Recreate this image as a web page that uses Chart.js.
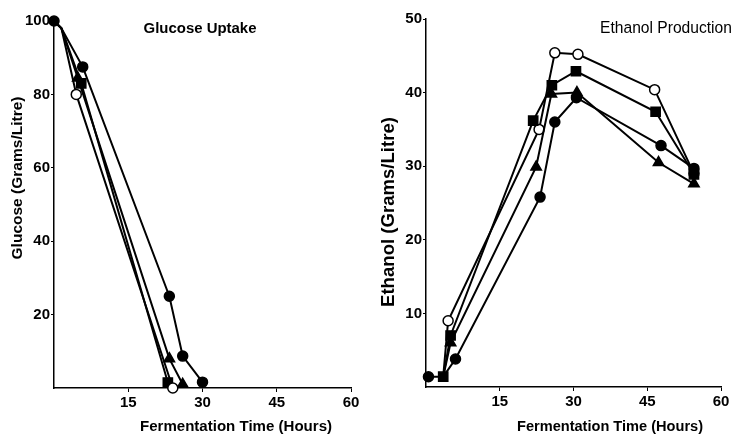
<!DOCTYPE html>
<html><head><meta charset="utf-8">
<script src="https://cdn.jsdelivr.net/npm/chart.js@4/dist/chart.umd.min.js"></script>
<style>
html,body{margin:0;padding:0;background:#fff;}
#wrap{position:relative;width:736px;height:435px;overflow:hidden;}
.c{position:absolute;top:0;width:368px;height:435px;}
</style></head><body>
<div id="wrap">
<div class="c" style="left:0"><canvas id="g" width="368" height="435"></canvas></div>
<div class="c" style="left:368px"><canvas id="e" width="368" height="435"></canvas></div>
</div>
<script>
// ---- tick labels ----
const xTickValues = [15, 30, 45, 60];
const glucoseTickValues = [20, 40, 60, 80, 100];
const ethanolTickValues = [10, 20, 30, 40, 50];

// ---- Glucose uptake (g/L) ----
const glcOpenT   = [0, 1.5, 4.5, 24];
const glcOpenV   = [100, 98, 80, 0];
const glcSquareT = [0, 1.5, 5.5, 23];
const glcSquareV = [100, 98, 83, 1.5];
const glcTriT    = [0, 1.5, 4.8, 23.3, 26];
const glcTriV    = [100, 98, 84.5, 8, 1];
const glcFillT   = [0, 1.5, 5.8, 23.3, 26, 30];
const glcFillV   = [100, 98, 87.5, 25, 8.7, 1.6];

// ---- Ethanol production (g/L) ----
const ethOpenT   = [3.5, 4.5, 23, 26.2, 30.9, 46.5, 54.5];
const ethOpenV   = [1.4, 9, 35, 45.4, 45.2, 40.4, 29];
const ethSquareT = [3.5, 5, 21.8, 25.6, 30.5, 46.7, 54.5];
const ethSquareV = [1.4, 7, 36.2, 41, 42.9, 37.4, 28.9];
const ethTriT    = [3.5, 5, 22.4, 25.5, 30.7, 47.3, 54.5];
const ethTriV    = [1.4, 6, 29.9, 39.8, 40, 30.5, 27.6];
const ethFillT   = [0.5, 3.5, 6, 23.2, 26.2, 30.6, 47.8, 54.5];
const ethFillV   = [1.4, 1.4, 3.8, 25.8, 36, 39.3, 32.8, 29.7];

const pts = (t, v) => t.map((x, i) => ({x, y: v[i]}));
const FONT = '"Liberation Sans", Arial, Helvetica, sans-serif';

function ds(label, data, style, fill, radius, hidden, order) {
  return {
    label, data, order,
    borderColor: '#000', borderWidth: 2,
    pointStyle: style,
    pointBackgroundColor: fill,
    pointBorderColor: '#000', pointBorderWidth: 1.5,
    pointRadius: c => hidden.includes(c.dataIndex) ? 0 : radius,
    tension: 0, clip: false, fill: false
  };
}

function fitFont(ctx, text, weight, target) {
  ctx.font = weight + ' 20px ' + FONT;
  const w = ctx.measureText(text).width;
  return weight + ' ' + (20 * target / w).toFixed(2) + 'px ' + FONT;
}

function textPlugin(items) {
  return {
    id: 'txt',
    afterDraw(chart) {
      const ctx = chart.ctx;
      items.forEach(it => {
        ctx.save();
        ctx.font = fitFont(ctx, it.text, it.weight, it.width);
        ctx.fillStyle = '#000';
        ctx.textAlign = 'center';
        ctx.textBaseline = 'middle';
        ctx.translate(it.x, it.y);
        if (it.rot) ctx.rotate(it.rot);
        ctx.fillText(it.text, 0, 0);
        ctx.restore();
      });
    }
  };
}

function makeChart(id, datasets, yMax, yTicks, yWidth, xHeight, pad, texts) {
  const tickFont = {family: FONT, size: 15, weight: 'bold'};
  return new Chart(document.getElementById(id), {
    type: 'line',
    data: {datasets},
    options: {
      responsive: false, animation: false,
      layout: {padding: pad},
      plugins: {legend: {display: false}, tooltip: {enabled: false}},
      scales: {
        x: {
          type: 'linear', min: 0, max: 60,
          afterBuildTicks: s => { s.ticks = xTickValues.map(v => ({value: v})); },
          afterFit: s => { s.height = xHeight; },
          ticks: {color: '#000', font: tickFont, padding: 2, maxRotation: 0},
          grid: {display: true, drawOnChartArea: false, drawTicks: true, tickLength: 4, color: '#000', lineWidth: 1},
          border: {display: true, color: '#000', width: 1.5}
        },
        y: {
          type: 'linear', min: 0, max: yMax,
          afterBuildTicks: s => { s.ticks = yTicks.map(v => ({value: v})); },
          afterFit: s => { s.width = yWidth; },
          ticks: {color: '#000', font: tickFont, padding: 1},
          grid: {display: true, drawOnChartArea: false, drawTicks: true, tickLength: 3, color: '#000', lineWidth: 1},
          border: {display: true, color: '#000', width: 1.5}
        }
      }
    },
    plugins: [textPlugin(texts)]
  });
}

makeChart('g', [
  ds('Open circle', pts(glcOpenT, glcOpenV), 'circle', '#fff', 5, [0, 1], 0),
  ds('Square', pts(glcSquareT, glcSquareV), 'rect', '#000', 6.5, [0, 1], 1),
  ds('Triangle', pts(glcTriT, glcTriV), 'triangle', '#000', 6, [0, 1], 2),
  ds('Filled circle', pts(glcFillT, glcFillV), 'circle', '#000', 5, [1], 3)
], 100, glucoseTickValues, 54, 47, {top: 21, right: 17, left: 0, bottom: 0}, [
  {text: 'Glucose Uptake', weight: 'bold', width: 113, x: 200, y: 29},
  {text: 'Fermentation Time (Hours)', weight: 'bold', width: 192, x: 236, y: 427},
  {text: 'Glucose (Grams/Litre)', weight: 'bold', width: 163, x: 17.5, y: 178, rot: -Math.PI / 2}
]);

makeChart('e', [
  ds('Filled circle', pts(ethFillT, ethFillV), 'circle', '#000', 5, [1], 0),
  ds('Square', pts(ethSquareT, ethSquareV), 'rect', '#000', 6.5, [], 1),
  ds('Triangle', pts(ethTriT, ethTriV), 'triangle', '#000', 6, [0], 2),
  ds('Open circle', pts(ethOpenT, ethOpenV), 'circle', '#fff', 5, [0], 3)
], 50, ethanolTickValues, 58, 48, {top: 19, right: 15, left: 0, bottom: 0}, [
  {text: 'Ethanol Production', weight: 'normal', width: 132, x: 298, y: 29},
  {text: 'Fermentation Time (Hours)', weight: 'bold', width: 186, x: 242, y: 427},
  {text: 'Ethanol (Grams/Litre)', weight: 'bold', width: 190, x: 20.5, y: 212, rot: -Math.PI / 2}
]);
</script>
</body></html>
